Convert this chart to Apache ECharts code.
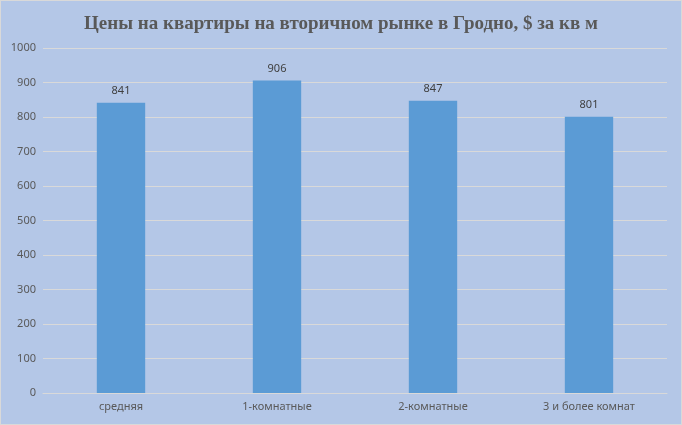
<!DOCTYPE html>
<html><head><meta charset="utf-8">
<script src="https://cdn.jsdelivr.net/npm/echarts@6/dist/echarts.min.js"></script>
<style>html,body{margin:0;padding:0;background:#fff}#c{width:680px;height:423px;border:1px solid #d9d9d9;background:#b4c7e7}</style>
</head><body><div id="c"></div>
<script>
const categories = ['средняя', '1-комнатные', '2-комнатные', '3 и более комнат'];
const values = [841, 906, 847, 801];
const yTicks = {min: 0, max: 1000, interval: 100};
const chart = echarts.init(document.getElementById('c'));
chart.setOption({
  backgroundColor: '#b4c7e7',
  animation: false,
  title: {
    text: 'Цены на квартиры на вторичном рынке в Гродно, $ за кв м',
    left: 'center', top: 9,
    textStyle: {fontFamily: 'Liberation Serif', fontWeight: 'bold', fontSize: 19, color: '#595959'}
  },
  grid: {left: 42, right: 14, top: 47, bottom: 31},
  xAxis: {
    type: 'category', data: categories,
    axisLine: {show: true, lineStyle: {color: '#d9d9d9'}},
    axisTick: {show: false},
    axisLabel: {color: '#595959', fontSize: 11, fontFamily: 'Noto Sans', margin: 8}
  },
  yAxis: {
    type: 'value', min: yTicks.min, max: yTicks.max, interval: yTicks.interval,
    axisLine: {show: false}, axisTick: {show: false},
    splitLine: {lineStyle: {color: '#d9d9d9', width: 1}},
    axisLabel: {color: '#595959', fontSize: 11, fontFamily: 'Noto Sans', margin: 7, formatter: v => String(v)}
  },
  series: [{
    type: 'bar', data: values, barWidth: '31%',
    itemStyle: {color: '#5b9bd5'},
    label: {show: true, position: 'top', color: '#404040', fontSize: 11, fontFamily: 'Noto Sans', distance: 6}
  }]
});
</script></body></html>
